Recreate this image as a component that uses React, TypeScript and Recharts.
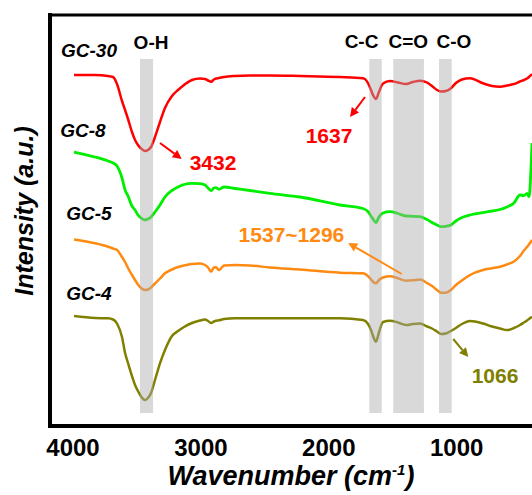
import React from 'react'
import {
  LineChart,
  Line,
  XAxis,
  YAxis,
  ReferenceArea,
  ReferenceLine,
  ReferenceDot,
} from 'recharts'

const FONT = "'Liberation Sans', Arial, Helvetica, sans-serif"

// wavenumber (cm-1)
const waveNumbers = [
  3992, 3828, 3726, 3687, 3656, 3617, 3593, 3570, 3539, 3515,
  3492, 3468, 3437, 3414, 3390, 3359, 3320, 3281, 3226, 3179,
  3132, 3070, 3007, 2968, 2944, 2921, 2898, 2882, 2859, 2819,
  2733, 2616, 2460, 2225, 1912, 1733, 1694, 1670, 1654, 1631,
  1608, 1576, 1522, 1459, 1396, 1342, 1287, 1232, 1193, 1154,
  1123, 1084, 1045, 1006, 959, 896, 794, 724, 661, 607,
  552, 505, 474, 450, 435, 411,
]

// intensities (a.u., stacked offsets included)
const gc30 = [
  351, 351, 350, 349, 342, 325, 316, 307, 294, 286,
  281, 277.5, 275, 276, 279, 289, 304, 318, 330, 336,
  341, 346, 347.5, 347, 345.5, 344.3, 346.5, 347.5, 348, 349,
  350, 350.5, 350.5, 350, 349, 347.7, 343, 336, 331, 327,
  334, 342.5, 345, 343.5, 342, 344, 345.3, 343.5, 340, 336,
  334.5, 335, 337.7, 343, 346.5, 347.7, 342.7, 340, 339.3, 340.5,
  342, 344.5, 346, 347.5, 349, 352,
]
const gc8 = [
  274, 269, 265, 263, 260, 248, 236, 230, 220, 216,
  211, 208, 206, 207, 209, 214, 221, 229, 235.5, 239,
  241.5, 242.7, 242.3, 241, 238, 235.3, 238, 238.3, 236.7, 239,
  237.5, 235.5, 232.7, 229, 221, 217.5, 214.5, 210, 207, 203.3,
  209, 213, 214.3, 212.5, 210, 209.7, 209.3, 206.5, 203.5, 201,
  199.3, 199.7, 201, 205, 208.5, 211, 213.3, 215, 216.5, 219,
  223, 231, 230.5, 232.7, 229.3, 283,
]
const gc5 = [
  186.5, 182.7, 179.3, 177.5, 176, 169, 164, 158, 151, 146,
  141.5, 138, 136, 136.5, 138.5, 142.5, 147.5, 152.7, 156.5, 159,
  160.5, 162, 162.5, 161, 158.5, 154.3, 158.5, 158.7, 156, 160.5,
  161, 160.5, 158.5, 156.5, 153.3, 152.7, 150, 146.5, 144.3, 142.7,
  146, 148.5, 149.7, 147.7, 145.3, 145.7, 146.5, 143, 140, 136,
  133.3, 133.3, 136, 141, 145.5, 151, 156, 157.7, 159.3, 161.5,
  164.5, 170, 175.5, 179, 181.5, 186,
]
const gc4 = [
  110, 108, 107.7, 106.5, 102.5, 89, 73, 63, 50, 41,
  35, 29.5, 26, 28, 33, 46, 62.7, 76, 90, 95,
  99, 103, 105.5, 106.5, 105, 103, 104.5, 105.3, 105.7, 107,
  107.7, 107.7, 107.7, 107.7, 107.7, 106, 102.3, 96, 90, 84.3,
  93.5, 104, 105.3, 103.5, 101, 102, 102.5, 99.5, 97.5, 94.5,
  92, 92.5, 95, 98, 102, 105, 102.5, 99.5, 97.5, 96,
  98, 101, 103.5, 105.5, 107, 109.3,
]

const xTicks = [4000, 3000, 2000, 1000]

// shaded bands [from, to] in cm-1
const bandRanges = [
  [3476, 3374],
  [1683, 1586],
  [1496, 1256],
  [1138, 1039],
]

const chartData = waveNumbers.map((w, i) => ({
  w,
  gc30: gc30[i],
  gc8: gc8[i],
  gc5: gc5[i],
  gc4: gc4[i],
}))

const RED = '#ff0000'
const GREEN = '#00ee00'
const ORANGE = '#ff8a12'
const OLIVE = '#808000'

// text annotations, positioned in data units
const notes = [
  { text: 'GC-30', w: 3875, v: 369, color: '#000', italic: true, size: 19 },
  { text: 'GC-8', w: 3922, v: 289, color: '#000', italic: true, size: 19 },
  { text: 'GC-5', w: 3875, v: 206, color: '#000', italic: true, size: 19 },
  { text: 'GC-4', w: 3875, v: 126, color: '#000', italic: true, size: 19 },
  { text: 'O-H', w: 3390, v: 377, color: '#000', italic: false, size: 19 },
  { text: 'C-C', w: 1744, v: 378, color: '#000', italic: false, size: 19 },
  { text: 'C=O', w: 1378, v: 378, color: '#000', italic: false, size: 19 },
  { text: 'C-O', w: 1021, v: 378, color: '#000', italic: false, size: 19 },
  { text: '3432', w: 2905, v: 256, color: RED, italic: false, size: 21 },
  { text: '1637', w: 1998, v: 283, color: RED, italic: false, size: 21 },
  { text: '1537~1296', w: 2292, v: 184, color: ORANGE, italic: false, size: 21 },
  { text: '1066', w: 700, v: 43, color: OLIVE, italic: false, size: 21 },
]

const arrows = [
  { from: [3320, 283], to: [3150, 267], color: RED },
  { from: [1717, 329], to: [1834, 309], color: RED },
  { from: [1430, 152], to: [1848, 183], color: ORANGE },
  { from: [1027, 87], to: [909, 69], color: OLIVE },
]

const arrowShape = (color: string) => (p: any) => {
  const { x1, y1, x2, y2 } = p
  const ang = Math.atan2(y2 - y1, x2 - x1)
  const len = 9
  const half = 4.5
  const bx = x2 - len * Math.cos(ang)
  const by = y2 - len * Math.sin(ang)
  const px = -Math.sin(ang) * half
  const py = Math.cos(ang) * half
  return (
    <g>
      <line x1={x1} y1={y1} x2={bx} y2={by} stroke={color} strokeWidth={2} />
      <polygon points={`${x2},${y2} ${bx + px},${by + py} ${bx - px},${by - py}`} fill={color} />
    </g>
  )
}

const XTick = (p: any) => (
  <text
    x={p.x}
    y={p.y + 22}
    textAnchor="middle"
    fontSize={24}
    fontWeight="bold"
    fontFamily={FONT}
    fill="#000"
  >
    {p.payload.value}
  </text>
)

export default function App() {
  return (
    <div style={{ position: 'absolute', left: 0, top: 0, width: 532, height: 495, background: '#fff', overflow: 'hidden' }}>
      <LineChart width={532} height={495} data={chartData} margin={{ top: 15, right: 0, bottom: 0, left: 0 }}>
        <XAxis
          dataKey="w"
          type="number"
          domain={[411, 4180]}
          reversed
          allowDataOverflow
          ticks={xTicks}
          interval={0}
          height={69}
          tickLine={false}
          axisLine={{ stroke: '#000', strokeWidth: 4, strokeLinecap: 'square' }}
          tick={XTick}
          label={(p: any) => {
            const vb = p.viewBox || { x: 50, y: 426, width: 482, height: 69 }
            return (
              <text
                x={vb.x + vb.width / 2}
                y={485}
                textAnchor="middle"
                fontSize={27}
                fontWeight="bold"
                fontStyle="italic"
                fontFamily={FONT}
                fill="#000"
              >
                Wavenumber (cm<tspan dy={-10} fontSize={15}>-1</tspan><tspan dy={10}>)</tspan>
              </text>
            )
          }}
        />
        <YAxis
          type="number"
          domain={[0, 411]}
          allowDataOverflow
          width={50}
          tick={false}
          tickLine={false}
          axisLine={{ stroke: '#000', strokeWidth: 4, strokeLinecap: 'square' }}
          label={() => (
            <text
              x={33}
              y={211}
              transform="rotate(-90, 33, 211)"
              textAnchor="middle"
              fontSize={25}
              fontWeight="bold"
              fontStyle="italic"
              fontFamily={FONT}
              fill="#000"
            >
              Intensity (a.u.)
            </text>
          )}
        />
        <ReferenceLine y={411} stroke="#000" strokeWidth={3} ifOverflow="visible" />

        <Line type="monotone" dataKey="gc30" stroke={RED} strokeWidth={2.5} dot={false} isAnimationActive={false} />
        <Line type="monotone" dataKey="gc8" stroke={GREEN} strokeWidth={2.8} dot={false} isAnimationActive={false} />
        <Line type="monotone" dataKey="gc5" stroke={ORANGE} strokeWidth={2.5} dot={false} isAnimationActive={false} />
        <Line type="monotone" dataKey="gc4" stroke={OLIVE} strokeWidth={2.5} dot={false} isAnimationActive={false} />

        {bandRanges.map(([a, b]) => (
          <ReferenceArea
            key={a}
            x1={a}
            x2={b}
            y1={13}
            y2={367}
            fill="#aaaaaa"
            fillOpacity={0.45}
            stroke="none"
            zIndex={450}
          />
        ))}

        {arrows.map((a, i) => (
          <ReferenceLine
            key={'arr' + i}
            segment={[{ x: a.from[0], y: a.from[1] }, { x: a.to[0], y: a.to[1] }]}
            shape={arrowShape(a.color)}
            ifOverflow="visible"
            zIndex={1900}
          />
        ))}

        {notes.map((n) => (
          <ReferenceDot
            key={n.text}
            x={n.w}
            y={n.v}
            r={0}
            ifOverflow="visible"
            zIndex={2000}
            shape={(p: any) => (
              <text
                x={p.cx}
                y={p.cy}
                textAnchor="middle"
                fontSize={n.size}
                fontWeight="bold"
                fontStyle={n.italic ? 'italic' : 'normal'}
                fontFamily={FONT}
                fill={n.color}
              >
                {n.text}
              </text>
            )}
          />
        ))}
      </LineChart>
    </div>
  )
}
